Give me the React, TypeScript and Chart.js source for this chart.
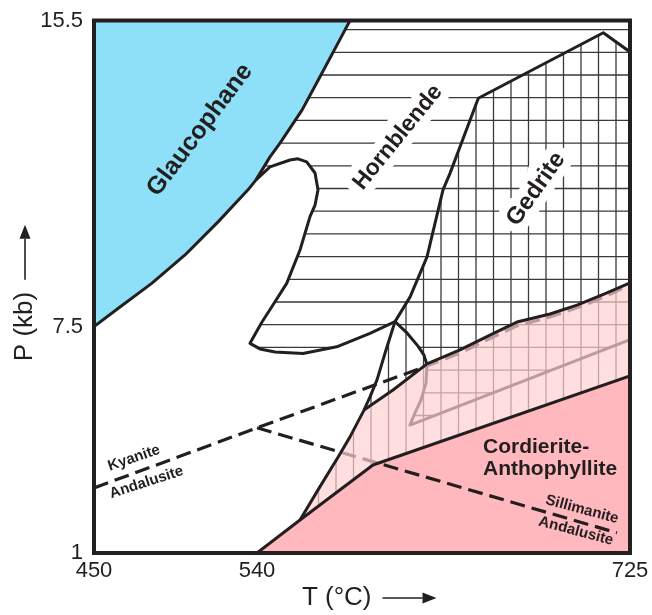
import { useEffect, useRef } from 'react';
import { Chart, registerables, LinearScale } from 'chart.js';

// ---------------- data (T in °C, P in kb) ----------------
const tMin = 450;
const tMax = 725;
const pMin = 1;
const pMax = 15.5;
const xTicks = [450, 540, 725];
const yTicks = [1, 7.5, 15.5];

// Glaucophane-out boundary, from top edge down to left edge
const glaucophaneEdge: number[][] = [
  [586.13, 15.5], [580.17, 14.91], [571.25, 14.03], [562.32, 13.16], [551.41, 12.3],
  [546.45, 11.94], [539.45, 11.34], [535.03, 11.08], [518.63, 10.25], [500.25, 9.38],
  [481.86, 8.64], [463.42, 7.99], [450, 7.51],
];
// Hornblende-in boundary (tongue), from branch point to the invariant node
const hornblendeEdge: number[][] = [
  [539.45, 11.34], [546.45, 11.68], [556.37, 11.86], [560.34, 11.89], [564.65, 11.81],
  [568.77, 11.52], [570.25, 11.08], [568.77, 10.68], [566.29, 10.38], [561.33, 9.51],
  [554.73, 8.64], [548.93, 8.16], [542.48, 7.63], [536.13, 7.03], [541.49, 6.87],
  [548.93, 6.78], [562.82, 6.74], [579.53, 6.93], [596.05, 7.32], [608.45, 7.64],
];
// Gedrite-in boundary, from right edge to the node
const gedriteEdge: number[][] = [
  [725, 14.68], [711.76, 15.18], [649.76, 13.47], [635.72, 11.51], [632.25, 11.08],
  [624.32, 9.33], [615.88, 8.28], [608.45, 7.64],
];
// Hornblende-out boundary, from node to right edge
const hornblendeLowerEdge: number[][] = [
  [608.45, 7.64], [614.4, 7.33], [619.85, 6.95], [622.83, 6.69], [624.32, 6.41],
  [623.82, 5.89], [621.34, 5.4], [618.36, 5.03], [615.88, 4.68], [725, 7.14],
];
// Gedrite low-T boundary, from node down to the cordierite field
const gedriteLeftEdge: number[][] = [
  [608.45, 7.64], [603.98, 6.84], [599.52, 5.98], [596.05, 5.49], [593.07, 5.11],
  [586.13, 4.34], [580.32, 3.77], [571.25, 2.91], [561.33, 1.95],
];
const pinkTopEdge: number[][] = [[593.07, 5.11], [607.45, 5.69], [624.32, 6.44]];
const sillimaniteEdge: number[][] = [
  [624.32, 6.44], [640.68, 6.84], [657.05, 7.31], [668.95, 7.63], [685.32, 7.84],
  [698.71, 8.07], [712.1, 8.36], [725, 8.65],
];
const cordieriteEdge: number[][] = [[540, 1], [561.33, 1.95], [597.53, 3.53], [725, 6.09]];
// Al2SiO5 reactions (dashed)
const kyaniteLine: number[][] = [
  [450, 2.87], [540, 4.6], [624.32, 6.38], [640.68, 6.75], [657.05, 7.21],
  [668.95, 7.53], [685.32, 7.76], [698.71, 8.0], [712.1, 8.28], [725, 8.6],
];
const andalusiteLine: number[][] = [[540, 4.6], [718.55, 1.58]];

// field polygons built from the edges
const glaucophaneField = [[tMin, pMax], ...glaucophaneEdge];
const hornblendeField = [[tMax, pMax], ...glaucophaneEdge.slice(0, 7), ...hornblendeEdge.slice(1), ...hornblendeLowerEdge.slice(1)];
const gedriteField = [...gedriteEdge, ...gedriteLeftEdge.slice(1), ...cordieriteEdge.slice(2)];
const cordieriteField = [...cordieriteEdge, [tMax, pMin]];
const overlapField = [
  ...gedriteLeftEdge.slice(4).reverse(),
  ...pinkTopEdge.slice(1),
  ...sillimaniteEdge.slice(1),
  ...cordieriteEdge.slice(1).reverse(),
];

// field labels: text lines, anchor T, anchor P
const labels = [
  { text: ['Glaucophane'], t: 508.5, p: 12.64, angle: -53, size: 25, halo: false, align: 'center' },
  { text: ['Hornblende'], t: 609.9, p: 12.45, angle: -51, size: 23, halo: true, align: 'center' },
  { text: ['Gedrite'], t: 678.4, p: 11.1, angle: -55, size: 24, halo: true, align: 'center' },
  { text: ['Cordierite-', 'Anthophyllite'], t: 652.1, p: 3.88, angle: 0, size: 21, halo: false, align: 'left' },
  { text: ['Kyanite'], t: 472.1, p: 3.73, angle: -19, size: 15, halo: false, align: 'center' },
  { text: ['Andalusite'], t: 479.0, p: 3.03, angle: -18, size: 15, halo: false, align: 'center' },
  { text: ['Sillimanite'], t: 701.2, p: 2.25, angle: 15, size: 15, halo: false, align: 'center' },
  { text: ['Andalusite'], t: 698.2, p: 1.63, angle: 15, size: 15, halo: false, align: 'center' },
];
const xTitle = 'T (°C)';
const yTitle = 'P (kb)';

// ---------------- styles ----------------
const FONT = "'Liberation Sans', Arial, Helvetica, sans-serif";
const INK = '#231f20';
const BLUE = '#8ee0f8';
const PINK = '#ffb9be';
const PINK_OVERLAY = 'rgba(255,208,211,0.7)';
const HATCH = '#3a3a3a';
const TITLE_SIZE = 26;
const X_PAD = '       '; // shifts the x title left to leave room for the arrow
const Y_PAD = '           ';

function interp(v: number, from: number[], to: number[]) {
  let i = 0;
  while (i < from.length - 2 && v > from[i + 1]) i++;
  return to[i] + ((v - from[i]) / (from[i + 1] - from[i])) * (to[i + 1] - to[i]);
}

// Axis whose labelled ticks are not evenly spaced (piecewise linear, as in the original figure)
function makeKinkedScale(id: string, knots: number[], fracs: number[]) {
  return class extends LinearScale {
    static id = id;
    getPixelForValue(value: number) {
      return this.getPixelForDecimal(interp(value, knots, fracs));
    }
    getValueForPixel(pixel: number) {
      return interp(this.getDecimalForPixel(pixel), fracs, knots);
    }
  };
}
const KinkedX = makeKinkedScale('kinkedX', xTicks, [0, 0.3041, 1]);
const KinkedY = makeKinkedScale('kinkedY', yTicks, [0, 0.4244, 1]);

Chart.register(...registerables, KinkedX, KinkedY);

const toPts = (a: number[][]) => a.map(([x, y]) => ({ x, y }));

const hatchPlugin = {
  id: 'hatch',
  afterDatasetDraw(chart: any, args: any) {
    const ds = chart.data.datasets[args.index];
    if (!ds.hatch) return;
    const pts = args.meta.data;
    const { ctx, chartArea: a } = chart;
    ctx.save();
    ctx.beginPath();
    ctx.rect(a.left, a.top, a.width, a.height);
    ctx.clip();
    ctx.beginPath();
    pts.forEach((p: any, i: number) => (i ? ctx.lineTo(p.x, p.y) : ctx.moveTo(p.x, p.y)));
    ctx.closePath();
    ctx.clip();
    ctx.strokeStyle = HATCH;
    ctx.lineWidth = 1.3;
    ctx.beginPath();
    if (ds.hatch === 'h') {
      for (let y = a.top + 9.1; y < a.bottom; y += 22.7) {
        ctx.moveTo(a.left, y);
        ctx.lineTo(a.right, y);
      }
    } else {
      for (let x = a.right - 14; x > a.left; x -= 17.5) {
        ctx.moveTo(x, a.top);
        ctx.lineTo(x, a.bottom);
      }
    }
    ctx.stroke();
    ctx.restore();
  },
};

function arrow(ctx: any, x0: number, y0: number, x1: number, y1: number) {
  const len = Math.hypot(x1 - x0, y1 - y0);
  const ux = (x1 - x0) / len;
  const uy = (y1 - y0) / len;
  const head = 14;
  const half = 5.5;
  ctx.save();
  ctx.strokeStyle = INK;
  ctx.fillStyle = INK;
  ctx.lineWidth = 1.6;
  ctx.beginPath();
  ctx.moveTo(x0, y0);
  ctx.lineTo(x1 - ux * head, y1 - uy * head);
  ctx.stroke();
  ctx.beginPath();
  ctx.moveTo(x1, y1);
  ctx.lineTo(x1 - ux * head - uy * half, y1 - uy * head + ux * half);
  ctx.lineTo(x1 - ux * head + uy * half, y1 - uy * head - ux * half);
  ctx.closePath();
  ctx.fill();
  ctx.restore();
}

const labelPlugin = {
  id: 'fieldLabels',
  afterDatasetsDraw(chart: any) {
    const { ctx, scales } = chart;
    labels.forEach((l) => {
      const x = scales.x.getPixelForValue(l.t);
      const y = scales.y.getPixelForValue(l.p);
      ctx.save();
      ctx.translate(x, y);
      ctx.rotate((l.angle * Math.PI) / 180);
      ctx.font = `bold ${l.size}px ${FONT}`;
      ctx.textAlign = l.align;
      ctx.textBaseline = l.text.length > 1 ? 'alphabetic' : 'middle';
      l.text.forEach((line, i) => {
        const ly = i * l.size * 1.05;
        if (l.halo) {
          ctx.strokeStyle = '#ffffff';
          ctx.lineWidth = 17;
          ctx.lineJoin = 'round';
          ctx.strokeText(line, 0, ly);
        }
        ctx.fillStyle = INK;
        ctx.fillText(line, 0, ly);
      });
      ctx.restore();
    });
  },
  afterDraw(chart: any) {
    const { ctx, chartArea: a, scales } = chart;
    ctx.save();
    ctx.strokeStyle = INK;
    ctx.lineWidth = 4;
    ctx.strokeRect(a.left, a.top, a.width, a.height);
    // title arrows, placed after the measured title text
    ctx.font = `${TITLE_SIZE}px ${FONT}`;
    const lh = TITLE_SIZE * 1.2;
    const xs = scales.x;
    const xFull = ctx.measureText(xTitle + X_PAD).width;
    const xText = ctx.measureText(xTitle).width;
    const xStart = (xs.left + xs.right) / 2 - xFull / 2;
    const xy = xs.bottom - lh / 2 - 1.4;
    arrow(ctx, xStart + xText + 11, xy, xStart + xText + 65, xy);
    const ys = scales.y;
    const yFull = ctx.measureText(yTitle + Y_PAD).width;
    const yText = ctx.measureText(yTitle).width;
    const yStart = (ys.top + ys.bottom) / 2 + yFull / 2;
    const yx = ys.left + lh / 2 + 9.4;
    arrow(ctx, yx, yStart - yText - 12, yx, yStart - yText - 67);
    ctx.restore();
  },
};

function fillSet(data: number[][], color: string) {
  return { data: toPts(data), fill: 'shape', backgroundColor: color, borderWidth: 0, pointRadius: 0, tension: 0 };
}
function hatchSet(data: number[][], dir: string) {
  return { data: toPts(data), fill: false, borderWidth: 0, pointRadius: 0, tension: 0, hatch: dir };
}
function lineSet(data: number[][], dashed = false) {
  return {
    data: toPts(data),
    fill: false,
    borderColor: INK,
    borderWidth: dashed ? 3.2 : 3,
    borderDash: dashed ? [15, 7] : [],
    borderCapStyle: 'butt',
    borderJoinStyle: 'round',
    pointRadius: 0,
    tension: 0,
  };
}

export default function App() {
  const ref = useRef<HTMLCanvasElement>(null);
  useEffect(() => {
    // listed bottom layer first
    const layers: any[] = [
      fillSet(glaucophaneField, BLUE),
      hatchSet(hornblendeField, 'h'),
      hatchSet(gedriteField, 'v'),
      fillSet(cordieriteField, PINK),
      lineSet(kyaniteLine, true),
      lineSet(andalusiteLine, true),
      lineSet(hornblendeLowerEdge),
      fillSet(overlapField, PINK_OVERLAY),
      lineSet(glaucophaneEdge),
      lineSet(hornblendeEdge),
      lineSet(gedriteEdge),
      lineSet(gedriteLeftEdge),
      lineSet(pinkTopEdge),
      lineSet(sillimaniteEdge),
      lineSet(cordieriteEdge),
    ];
    layers.forEach((d, i) => (d.order = layers.length - i));
    const tickFont = { family: FONT, size: 22 };
    const titleFont = { family: FONT, size: TITLE_SIZE };
    const chart = new Chart(ref.current!, {
      type: 'line',
      data: { datasets: layers },
      options: {
        animation: false,
        responsive: false,
        devicePixelRatio: 1,
        events: [],
        layout: { padding: { left: 0, top: 20.5, right: 22, bottom: 0 } },
        plugins: { legend: { display: false }, tooltip: { enabled: false } },
        scales: {
          x: {
            type: 'kinkedX',
            min: tMin,
            max: tMax,
            afterBuildTicks: (s: any) => { s.ticks = xTicks.map((v) => ({ value: v })); },
            afterFit: (s: any) => { s.height = 62; s.paddingLeft = 0; s.paddingRight = 0; },
            grid: { display: false, drawTicks: false },
            border: { display: false },
            ticks: { font: tickFont, color: INK, padding: 5, maxRotation: 0, autoSkip: false, callback: (v: any) => String(v) },
            title: { display: true, text: xTitle + X_PAD, font: titleFont, color: INK, padding: { top: 0, bottom: 1.4 } },
          },
          y: {
            type: 'kinkedY',
            min: pMin,
            max: pMax,
            afterBuildTicks: (s: any) => { s.ticks = yTicks.map((v) => ({ value: v })); },
            afterFit: (s: any) => { s.width = 94; s.paddingTop = 0; s.paddingBottom = 0; },
            grid: { display: false, drawTicks: false },
            border: { display: false },
            ticks: { font: tickFont, color: INK, padding: 11, autoSkip: false, callback: (v: any) => String(v) },
            title: { display: true, text: yTitle + Y_PAD, font: titleFont, color: INK, padding: { top: 9.4, bottom: 0 } },
          },
        },
      } as any,
      plugins: [hatchPlugin, labelPlugin],
    } as any);
    return () => chart.destroy();
  }, []);
  return (
    <div style={{ position: 'fixed', left: 0, top: 0, width: 652, height: 615, background: '#fff' }}>
      <canvas ref={ref} width={652} height={615} style={{ display: 'block' }} />
    </div>
  );
}
